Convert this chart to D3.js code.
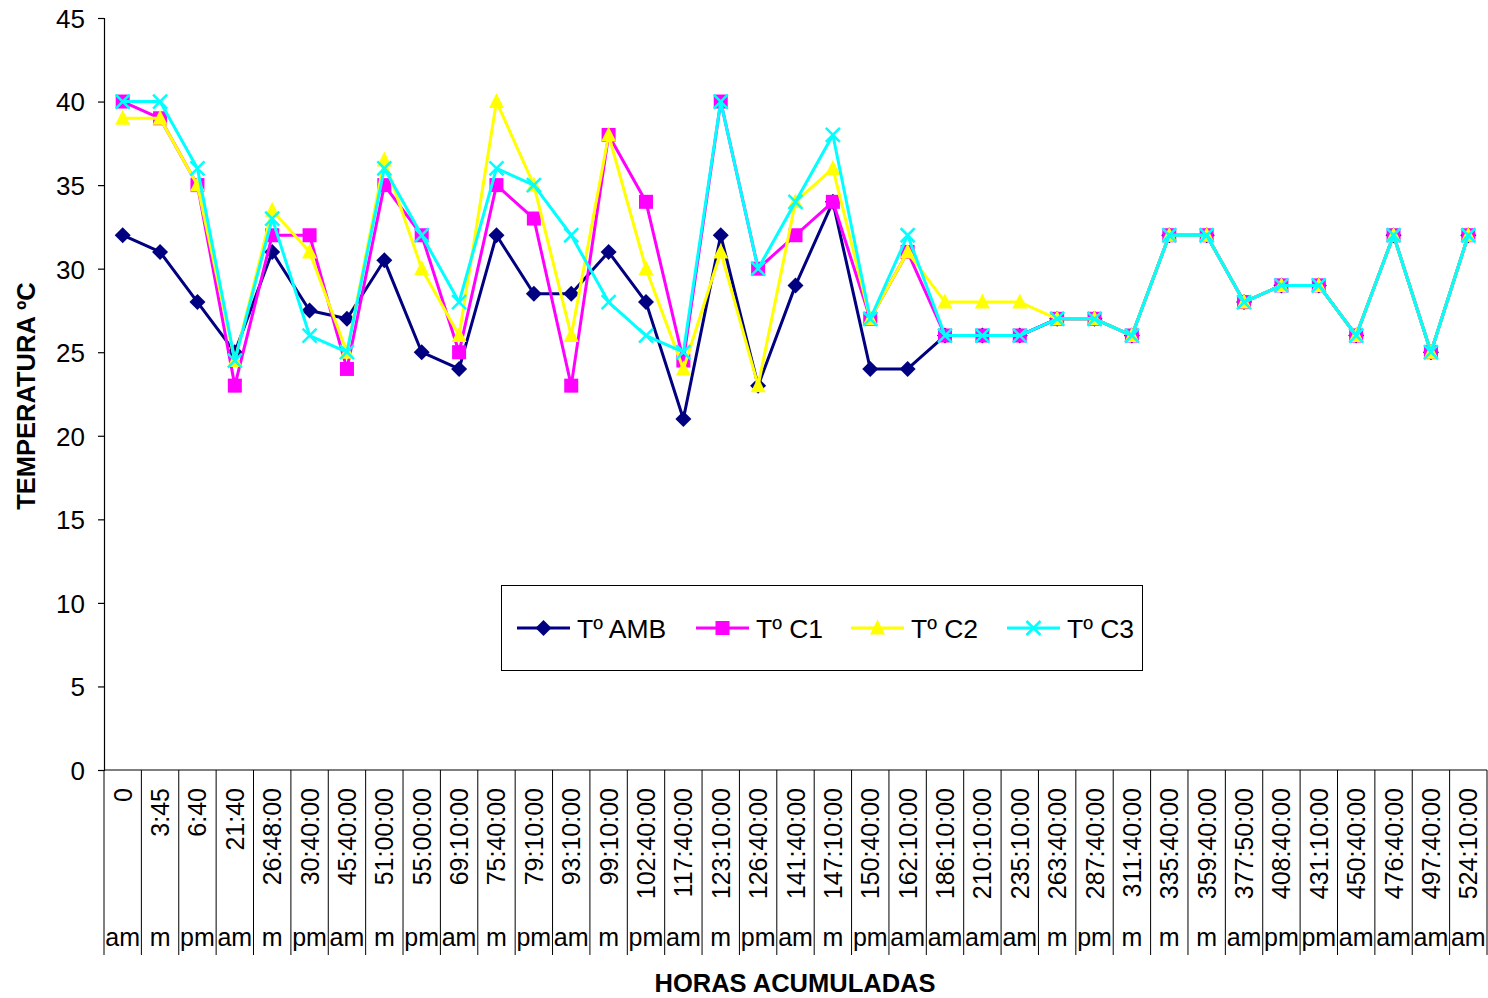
<!DOCTYPE html>
<html>
<head>
<meta charset="utf-8">
<script src="https://cdn.jsdelivr.net/npm/d3@7/dist/d3.min.js"></script>
<style>
  html, body { margin: 0; padding: 0; background: #fff; }
  svg { display: block; font-family: "Liberation Sans", Arial, sans-serif; }
</style>
</head>
<body>
<svg id="chart" width="1488" height="998"></svg>
<script>
// Accumulated hours (category labels) and time of day for each reading
const horas = ["0","3:45","6:40","21:40","26:48:00","30:40:00","45:40:00","51:00:00","55:00:00","69:10:00",
  "75:40:00","79:10:00","93:10:00","99:10:00","102:40:00","117:40:00","123:10:00","126:40:00","141:40:00","147:10:00",
  "150:40:00","162:10:00","186:10:00","210:10:00","235:10:00","263:40:00","287:40:00","311:40:00","335:40:00","359:40:00",
  "377:50:00","408:40:00","431:10:00","450:40:00","476:40:00","497:40:00","524:10:00"];
const turno = ["am","m","pm","am","m","pm","am","m","pm","am",
  "m","pm","am","m","pm","am","m","pm","am","m",
  "pm","am","am","am","am","m","pm","m","m","m",
  "am","pm","pm","am","am","am","am"];

// Temperatures (ºC)
const tAmb = [32,31,28,25,31,27.5,27,30.5,25,24, 32,28.5,28.5,31,28,21,32,23,29,34, 24,24,26,26,26,27,27,26,32,32, 28,29,29,26,32,25,32];
const tC1  = [40,39,35,23,32,32,24,35,32,25, 35,33,23,38,34,24.5,40,30,32,34, 27,31,26,26,26,27,27,26,32,32, 28,29,29,26,32,25,32];
const tC2  = [39,39,35,24.5,33.5,31,25,36.5,30,26, 40,35,26,38,30,24,31,23,34,36, 27,31,28,28,28,27,27,26,32,32, 28,29,29,26,32,25,32];
const tC3  = [40,40,36,24.5,33,26,25,36,32,28, 36,35,32,28,26,25,40,30,34,38, 27,32,26,26,26,27,27,26,32,32, 28,29,29,26,32,25,32];

const yTicks = [0,5,10,15,20,25,30,35,40,45];

const series = [
  { name: "Tº AMB", values: tAmb, color: "#000080", marker: "diamond" },
  { name: "Tº C1",  values: tC1,  color: "#FF00FF", marker: "square" },
  { name: "Tº C2",  values: tC2,  color: "#FFFF00", marker: "triangle" },
  { name: "Tº C3",  values: tC3,  color: "#00FFFF", marker: "cross" }
];

const svg = d3.select("#chart");
const plotL = 104, plotR = 1487, plotT = 18, plotB = 770, tableB = 955;

const x = d3.scaleBand().domain(d3.range(horas.length)).range([plotL, plotR]).padding(0);
const y = d3.scaleLinear().domain([0, 45]).range([plotB, plotT]);
const cx = i => x(i) + x.bandwidth() / 2;

// Y axis
const yAxis = svg.append("g").attr("transform", `translate(${plotL},0)`)
  .call(d3.axisLeft(y).tickValues(yTicks).tickSize(6).tickPadding(13).tickFormat(d3.format("d")));
yAxis.select(".domain").attr("stroke", "#000").attr("stroke-width", 1.2);
yAxis.selectAll(".tick line").attr("stroke", "#000").attr("stroke-width", 1.2);
yAxis.selectAll(".tick text").attr("font-size", 26).attr("fill", "#000")
  .attr("font-family", "Liberation Sans, Arial, sans-serif").attr("dy", "0.36em");

// X axis line
svg.append("line").attr("x1", plotL).attr("x2", plotR).attr("y1", plotB).attr("y2", plotB)
  .attr("stroke", "#000").attr("stroke-width", 1.2);

// Category table separators
const bounds = d3.range(horas.length + 1).map(i => i < horas.length ? x(i) : plotR);
svg.append("g").selectAll("line").data(bounds).join("line")
  .attr("x1", d => d).attr("x2", d => d).attr("y1", plotB).attr("y2", tableB)
  .attr("stroke", "#000").attr("stroke-width", 1);

// Rotated hour labels
svg.append("g").selectAll("text").data(horas).join("text")
  .attr("transform", (d, i) => `translate(${cx(i) + 9},788) rotate(-90)`)
  .attr("text-anchor", "end").attr("font-size", 25).attr("fill", "#000")
  .text(d => d);

// Time-of-day labels
svg.append("g").selectAll("text").data(turno).join("text")
  .attr("x", (d, i) => cx(i)).attr("y", 946)
  .attr("text-anchor", "middle").attr("font-size", 25).attr("fill", "#000")
  .text(d => d);

// Axis titles
svg.append("text").attr("x", 795).attr("y", 992).attr("text-anchor", "middle")
  .attr("font-size", 25.5).attr("font-weight", "bold").text("HORAS ACUMULADAS");
svg.append("text").attr("transform", "translate(35,396) rotate(-90)").attr("text-anchor", "middle")
  .attr("font-size", 25.5).attr("font-weight", "bold").text("TEMPERATURA ºC");

// Marker shapes
function drawMarker(g, type, color) {
  if (type === "diamond") {
    g.append("path").attr("d", "M0,-8L8,0L0,8L-8,0Z").attr("fill", color);
  } else if (type === "square") {
    g.append("rect").attr("x", -7).attr("y", -7).attr("width", 14).attr("height", 14).attr("fill", color);
  } else if (type === "triangle") {
    g.append("path").attr("d", "M0,-8.5L7.5,6.5L-7.5,6.5Z").attr("fill", color);
  } else {
    g.append("path").attr("d", "M-7,-7L7,7M7,-7L-7,7")
      .attr("stroke", color).attr("stroke-width", 2.5).attr("fill", "none");
  }
}

const line = d3.line().x((d, i) => cx(i)).y(d => y(d));

series.forEach(s => {
  const g = svg.append("g");
  g.append("path").datum(s.values).attr("d", line)
    .attr("fill", "none").attr("stroke", s.color).attr("stroke-width", 3).attr("stroke-linejoin", "round");
  s.values.forEach((v, i) => {
    drawMarker(g.append("g").attr("transform", `translate(${cx(i)},${y(v)})`), s.marker, s.color);
  });
});

// Legend
const legend = svg.append("g");
legend.append("rect").attr("x", 501.5).attr("y", 585.5).attr("width", 641).attr("height", 85)
  .attr("fill", "#fff").attr("stroke", "#000").attr("stroke-width", 1);
const legX = [517, 696, 851, 1007];
series.forEach((s, k) => {
  const g = legend.append("g").attr("transform", `translate(${legX[k]},628)`);
  g.append("line").attr("x1", 0).attr("x2", 53).attr("y1", 0).attr("y2", 0)
    .attr("stroke", s.color).attr("stroke-width", 3);
  drawMarker(g.append("g").attr("transform", "translate(26.5,0)"), s.marker, s.color);
  g.append("text").attr("x", 60).attr("y", 9.5).attr("font-size", 26.5).attr("fill", "#000").text(s.name);
});
</script>
</body>
</html>
